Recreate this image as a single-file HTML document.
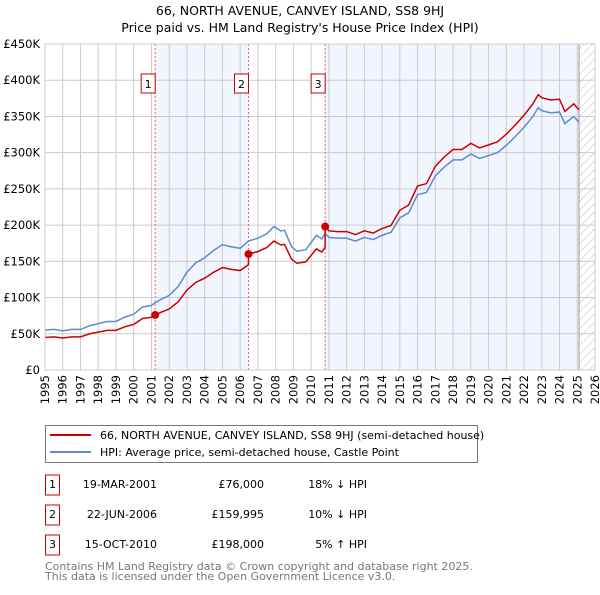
<!DOCTYPE html>
<html><head><meta charset="utf-8"><style>
body{margin:0;background:#fff;font-family:"Liberation Sans","DejaVu Sans",sans-serif}
svg text{font-family:"DejaVu Sans","Liberation Sans",sans-serif}
</style></head><body>
<svg id="c" width="600" height="590" viewBox="0 0 600 590" xmlns="http://www.w3.org/2000/svg">
<defs><pattern id="hatch" patternUnits="userSpaceOnUse" width="6" height="6" patternTransform="rotate(45)"><line x1="0" y1="0" x2="0" y2="6" stroke="#bbb" stroke-width="1"/></pattern></defs>
<text x="300" y="15" text-anchor="middle" font-size="12.5">66, NORTH AVENUE, CANVEY ISLAND, SS8 9HJ</text>
<text x="300" y="32" text-anchor="middle" font-size="12.5">Price paid vs. HM Land Registry's House Price Index (HPI)</text>
<g id="plot"></g>
<g>
<rect x="45.5" y="425.5" width="432" height="37" fill="#fff" stroke="#777"/>
<line x1="50" y1="435" x2="91" y2="435" stroke="#cc0000" stroke-width="2"/>
<text x="100" y="439" font-size="11">66, NORTH AVENUE, CANVEY ISLAND, SS8 9HJ (semi-detached house)</text>
<line x1="50" y1="452" x2="91" y2="452" stroke="#5b8ccc" stroke-width="2"/>
<text x="100" y="456" font-size="11">HPI: Average price, semi-detached house, Castle Point</text>
</g>
<g id="table" font-size="11"></g>
<text x="45" y="570" font-size="11" fill="#777">Contains HM Land Registry data © Crown copyright and database right 2025.</text>
<text x="45" y="580" font-size="11" fill="#777">This data is licensed under the Open Government Licence v3.0.</text>
</svg>
<script>
const hpiYears=[1995,1995.5,1996,1996.5,1997,1997.5,1998,1998.5,1999,1999.5,2000,2000.5,2001,2001.21,2001.5,2002,2002.5,2003,2003.5,2004,2004.5,2005,2005.5,2006,2006.47,2007,2007.5,2007.9,2008.3,2008.5,2008.9,2009.2,2009.7,2010.3,2010.6,2010.79,2011,2011.5,2012,2012.5,2013,2013.5,2014,2014.5,2015,2015.5,2016,2016.5,2017,2017.5,2018,2018.5,2019,2019.5,2020,2020.5,2021,2021.5,2022,2022.5,2022.8,2023,2023.5,2024,2024.3,2024.8,2025.1];
const hpiValues=[55,56,54,56,56,61,64,67,67,73,77,87,89,93,97,103,115,135,148,155,165,173,170,168,178,182,188,198,192,193,170,164,166,186,181,188.6,183,182,182,178,183,180,186,190,210,217,242,245,268,280,290,290,298,292,296,300,310,322,335,350,362,358,355,356,340,350,342];
const saleYears=[2001.21,2006.47,2010.79];
const salePrices=[76000,159995,198000];
const saleLabels=["1","2","3"];
const saleDates=["19-MAR-2001","22-JUN-2006","15-OCT-2010"];
const salePriceText=["£76,000","£159,995","£198,000"];
const saleDiff=["18% ↓ HPI","10% ↓ HPI","5% ↑ HPI"];
const yTicks=[0,50,100,150,200,250,300,350,400,450];
const yTickLabels=["£0","£50K","£100K","£150K","£200K","£250K","£300K","£350K","£400K","£450K"];
const xTicks=[1995,1996,1997,1998,1999,2000,2001,2002,2003,2004,2005,2006,2007,2008,2009,2010,2011,2012,2013,2014,2015,2016,2017,2018,2019,2020,2021,2022,2023,2024,2025,2026];
const dataEnd=2025.1;

const X0=45,X1=595,Y0=370,Y1=44;
const x=v=>X0+(v-1995)/(2026-1995)*(X1-X0);
const y=v=>Y0-v/450*(Y0-Y1);
const NS="http://www.w3.org/2000/svg";
const g=document.getElementById('plot');
function mk(tag,attrs,parent){const e=document.createElementNS(NS,tag);for(const k in attrs)e.setAttribute(k,attrs[k]);(parent||g).appendChild(e);return e;}
function hpiAt(t){for(let i=0;i<hpiYears.length-1;i++){if(t>=hpiYears[i]&&t<=hpiYears[i+1]){const f=(t-hpiYears[i])/(hpiYears[i+1]-hpiYears[i]);return hpiValues[i]+f*(hpiValues[i+1]-hpiValues[i]);}}return hpiValues[hpiValues.length-1];}

let bg=mk('rect',{x:X0,y:Y1,width:X1-X0,height:Y0-Y1,fill:'#fff'});


const shades=[[saleYears[0],saleYears[1]],[saleYears[2],dataEnd]];
shades.forEach(s=>{const r=mk('rect',{x:x(s[0]),y:Y1,width:x(s[1])-x(s[0]),height:Y0-Y1,fill:'#eef3fc',opacity:0.8});

});
let h=mk('rect',{x:x(dataEnd),y:Y1,width:X1-x(dataEnd),height:Y0-Y1,fill:'url(#hatch)'});


yTicks.forEach((v,i)=>{const l=mk('line',{x1:X0,x2:X1,y1:y(v),y2:y(v),stroke:'#ccc'});


const t=mk('text',{x:40,y:y(v)+4,'text-anchor':'end','font-size':11.5});t.textContent=yTickLabels[i];

});
xTicks.forEach(v=>{const l=mk('line',{x1:x(v),x2:x(v),y1:Y1,y2:Y0,stroke:'#ccc'});


const t=mk('text',{x:0,y:0,'text-anchor':'end','font-size':11.5,transform:`translate(${x(v)+4},375) rotate(-90)`});t.textContent=v;

});
let ed=mk('line',{x1:x(dataEnd),x2:x(dataEnd),y1:Y1,y2:Y0,stroke:'#999'});


saleYears.forEach((s,i)=>{const l=mk('line',{x1:x(s),x2:x(s),y1:Y1,y2:Y0,stroke:'#e66','stroke-dasharray':'2,2'});


const bx=x(s)-10;const r=mk('rect',{x:bx-4,y:74,width:14,height:19,fill:'#fff',stroke:'#cc0000'});


const t=mk('text',{x:bx+3,y:88,'text-anchor':'middle','font-size':11});t.textContent=saleLabels[i];

});
// HPI line
let hp=mk('polyline',{points:hpiYears.map((t,i)=>x(t)+','+y(hpiValues[i])).join(' '),fill:'none',stroke:'#5b8ccc','stroke-width':1.5});


// red line: price indexed by HPI from most recent sale
function redAt(t){let k=0;for(let i=0;i<saleYears.length;i++)if(t>=saleYears[i])k=i;return salePrices[k]/1000*hpiAt(t)/hpiAt(saleYears[k]);}
let pts=[];
hpiYears.forEach((t,i)=>{saleYears.forEach((s,k)=>{if(i>0&&s>hpiYears[i-1]&&s<=t&&k>0){pts.push([s,salePrices[k-1]/1000*hpiAt(s)/hpiAt(saleYears[k-1])]);pts.push([s,salePrices[k]/1000]);}});pts.push([t,redAt(t)]);});
let rp=mk('polyline',{points:pts.map(p=>x(p[0])+','+y(p[1])).join(' '),fill:'none',stroke:'#cc0000','stroke-width':1.5});


saleYears.forEach((s,i)=>{const c=mk('circle',{cx:x(s),cy:y(salePrices[i]/1000),r:4,fill:'#cc0000'});

});
let fr=mk('rect',{x:X0,y:Y1,width:X1-X0,height:Y0-Y1,fill:'none',stroke:'#ccc'});


// table
const tb=document.getElementById('table');
saleYears.forEach((s,i)=>{const yy=488+i*30;
const r=mk('rect',{x:45.5,y:yy-13,width:14,height:20,fill:'#fff',stroke:'#cc0000'},tb);


const vals=[[52.5,saleLabels[i],'middle'],[157,saleDates[i],'end'],[264,salePriceText[i],'end'],[367,saleDiff[i],'end']];
vals.forEach(v=>{const t=mk('text',{x:v[0],y:yy,'text-anchor':v[2]},tb);t.textContent=v[1];

});});
</script>
</body></html>
